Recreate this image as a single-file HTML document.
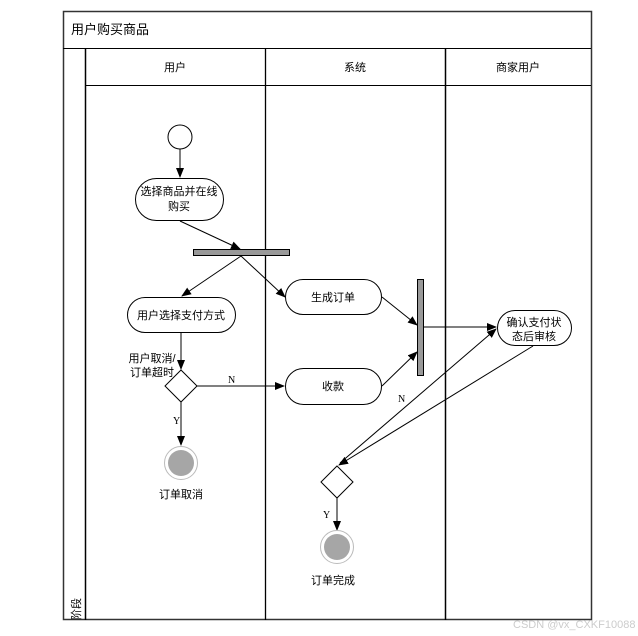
<!DOCTYPE html>
<html><head><meta charset="utf-8"><style>
html,body{margin:0;padding:0;background:#fff;}
svg{display:block;}
text{font-family:"Liberation Sans","Noto Sans CJK SC",sans-serif;font-size:11px;fill:#000;}
.s{font-family:"Liberation Serif",serif;font-size:10px;}
</style></head><body>
<svg width="638" height="636" viewBox="0 0 638 636">
<defs><marker id="a" markerWidth="10" markerHeight="8" refX="9" refY="4" orient="auto" markerUnits="userSpaceOnUse"><path d="M0,0 L10,4 L0,8 z" fill="#000"/></marker></defs>
<g fill="none" stroke="#000" stroke-width="1">
<rect x="63.5" y="11.5" width="528" height="608" stroke="#333" stroke-width="1.5"/>
<line x1="63" y1="48.5" x2="591" y2="48.5"/>
<line x1="85.5" y1="48" x2="85.5" y2="620" stroke-width="1.5"/>
<line x1="85" y1="85.5" x2="591" y2="85.5"/>
<line x1="265.5" y1="48" x2="265.5" y2="620" stroke-width="1.3"/>
<line x1="445.5" y1="48" x2="445.5" y2="620" stroke-width="1.5"/>
<circle cx="180" cy="137" r="12"/>
<rect x="135.5" y="178.5" width="88" height="42" rx="21"/>
<rect x="127.5" y="297.5" width="108" height="35" rx="17.5"/>
<rect x="285.5" y="279.5" width="96" height="35" rx="17.5"/>
<rect x="285.5" y="368.5" width="96" height="36" rx="18"/>
<rect x="497.5" y="310.5" width="74" height="35" rx="17.5"/>
<path d="M181,370 L197,386 L181,402 L165,386 Z"/>
<path d="M337,466 L353,482 L337,498 L321,482 Z"/>
<line x1="180" y1="149" x2="180" y2="177" marker-end="url(#a)"/>
<line x1="180" y1="221" x2="240" y2="249" marker-end="url(#a)"/>
<line x1="241" y1="256" x2="182" y2="296" marker-end="url(#a)"/>
<line x1="241" y1="256" x2="285" y2="297" marker-end="url(#a)"/>
<line x1="181" y1="333" x2="181" y2="369" marker-end="url(#a)"/>
<line x1="197" y1="386" x2="284" y2="386" marker-end="url(#a)"/>
<line x1="181" y1="402" x2="181" y2="445" marker-end="url(#a)"/>
<line x1="382" y1="297" x2="417" y2="325" marker-end="url(#a)"/>
<line x1="382" y1="386" x2="417" y2="352" marker-end="url(#a)"/>
<line x1="423" y1="327" x2="496" y2="327" marker-end="url(#a)"/>
<line x1="340" y1="463" x2="496" y2="329" marker-end="url(#a)"/>
<line x1="533" y1="346" x2="339" y2="465" marker-end="url(#a)"/>
<line x1="337" y1="498" x2="337" y2="530" marker-end="url(#a)"/>
</g>
<rect x="193.5" y="249.5" width="96" height="6" fill="#999" stroke="#000"/>
<rect x="417.5" y="279.5" width="6" height="96" fill="#999" stroke="#000"/>
<circle cx="181" cy="463" r="16.5" fill="#fff" stroke="#bbb"/>
<circle cx="181" cy="463" r="13" fill="#a6a6a6"/>
<circle cx="337" cy="547" r="16.5" fill="#fff" stroke="#bbb"/>
<circle cx="337" cy="547" r="13" fill="#a6a6a6"/>
<text x="71" y="34" style="font-size:13px">用户购买商品</text>
<text x="175" y="71" text-anchor="middle">用户</text>
<text x="355" y="71" text-anchor="middle">系统</text>
<text x="518" y="71" text-anchor="middle">商家用户</text>
<text x="179" y="195" text-anchor="middle">选择商品并在线</text>
<text x="179" y="210" text-anchor="middle">购买</text>
<text x="181" y="319" text-anchor="middle">用户选择支付方式</text>
<text x="333" y="301" text-anchor="middle">生成订单</text>
<text x="333" y="390" text-anchor="middle">收款</text>
<text x="534" y="326" text-anchor="middle">确认支付状</text>
<text x="534" y="340" text-anchor="middle">态后审核</text>
<text x="152" y="362" text-anchor="middle">用户取消/</text>
<text x="152" y="376" text-anchor="middle">订单超时</text>
<text x="181" y="498" text-anchor="middle">订单取消</text>
<text x="333" y="584" text-anchor="middle">订单完成</text>
<text class="s" x="228" y="383">N</text>
<text class="s" x="173" y="424">Y</text>
<text class="s" x="398" y="402">N</text>
<text class="s" x="323" y="518">Y</text>
<text transform="translate(80,620) rotate(-90)">阶段</text>
<text x="513" y="628" style="font-size:11px;fill:#ccc">CSDN @vx_CXKF10088</text>
</svg>
</body></html>
